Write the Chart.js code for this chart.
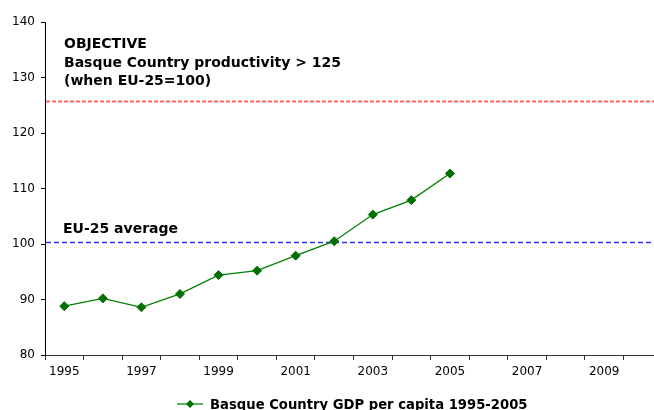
<!DOCTYPE html>
<html>
<head>
<meta charset="utf-8">
<script src="https://cdn.jsdelivr.net/npm/chart.js@4/dist/chart.umd.min.js"></script>
<style>
  html, body { margin: 0; padding: 0; background: #fff; overflow: hidden; }
  #wrap { width: 704px; height: 410px; }
</style>
</head>
<body>
<div id="wrap"><canvas id="gdpChart"></canvas></div>
<script>
// ===== DATA =====
const years = ['1995','1996','1997','1998','1999','2000','2001','2002','2003','2004','2005','2006','2007','2008','2009','2010'];
const gdpPerCapita = [88.8, 90.2, 88.6, 91.0, 94.4, 95.2, 97.9, 100.5, 105.3, 107.9, 112.7];
const yTicks = [80, 90, 100, 110, 120, 130, 140];
const objectiveLevel = 125.8;
const euAverage = 100.4;
const objectiveText = ['OBJECTIVE', 'Basque Country productivity > 125', '(when EU-25=100)'];
const euText = 'EU-25 average';
const seriesLabel = 'Basque Country GDP per capita 1995-2005';

const FONT = '"DejaVu Sans", Verdana, sans-serif';
const GREEN = '#008000';
const MARKER = '#007000';

// ===== REFERENCE LINES + NOTES =====
const refLines = {
  id: 'refLines',
  beforeDatasetsDraw(chart) {
    const { ctx, chartArea: a, scales: { y } } = chart;
    const drawLine = (val, color, width, dash) => {
      const py = Math.round(y.getPixelForValue(val)) + 0.5;
      ctx.save();
      ctx.strokeStyle = color;
      ctx.lineWidth = width;
      ctx.setLineDash(dash);
      ctx.beginPath();
      ctx.moveTo(a.left + 1, py);
      ctx.lineTo(a.right, py);
      ctx.stroke();
      ctx.restore();
    };
    drawLine(objectiveLevel, '#ff6666', 2, [4, 2]);
    drawLine(euAverage, '#3333ff', 1.5, [5, 3]);

    ctx.save();
    ctx.fillStyle = '#000';
    ctx.font = 'bold 14px ' + FONT;
    ctx.textBaseline = 'alphabetic';
    objectiveText.forEach((t, i) => ctx.fillText(t, 64, 48 + i * 18.7));
    ctx.fillText(euText, 63, 233);
    ctx.restore();
  },
  afterDraw(chart) {
    // legend: line with diamond + bold label
    const { ctx } = chart;
    ctx.save();
    ctx.strokeStyle = '#5cb85c';
    ctx.lineWidth = 2;
    ctx.beginPath();
    ctx.moveTo(177, 404);
    ctx.lineTo(203, 404);
    ctx.stroke();
    ctx.fillStyle = MARKER;
    ctx.beginPath();
    ctx.moveTo(190, 400); ctx.lineTo(194, 404); ctx.lineTo(190, 408); ctx.lineTo(186, 404);
    ctx.closePath();
    ctx.fill();
    ctx.fillStyle = '#000';
    ctx.font = 'bold 13.2px ' + FONT;
    ctx.fillText(seriesLabel, 210, 409);
    ctx.restore();
  }
};

new Chart(document.getElementById('gdpChart'), {
  type: 'line',
  data: {
    labels: years,
    datasets: [{
      label: seriesLabel,
      data: gdpPerCapita,
      borderColor: GREEN,
      borderWidth: 1.3,
      pointStyle: 'rectRot',
      pointRadius: 4.5,
      pointBackgroundColor: MARKER,
      pointBorderColor: MARKER,
      pointBorderWidth: 1,
      tension: 0
    }]
  },
  options: {
    responsive: true,
    maintainAspectRatio: false,
    animation: false,
    layout: { padding: { top: 22, right: 42, left: 0, bottom: 0 } },
    plugins: { legend: { display: false }, tooltip: { enabled: false } },
    scales: {
      x: {
        offset: true,
        grid: { offset: true, drawOnChartArea: false, drawTicks: true, tickLength: 5, color: '#333' },
        border: { color: '#333', width: 1 },
        ticks: {
          autoSkip: false, maxRotation: 0, padding: 5,
          color: '#000', font: { family: FONT, size: 12 },
          callback: (v, i) => (i % 2 === 0 ? years[i] : '')
        },
        afterFit: s => { s.height = 55; }
      },
      y: {
        min: yTicks[0], max: yTicks[yTicks.length - 1],
        afterBuildTicks: s => { s.ticks = yTicks.map(v => ({ value: v })); },
        grid: { drawOnChartArea: false, drawTicks: true, tickLength: 4, color: '#000' },
        border: { color: '#000', width: 1 },
        ticks: { padding: 6, color: '#000', font: { family: FONT, size: 12 } },
        afterFit: s => { s.width = 45; }
      }
    }
  },
  plugins: [refLines]
});
</script>
</body>
</html>
